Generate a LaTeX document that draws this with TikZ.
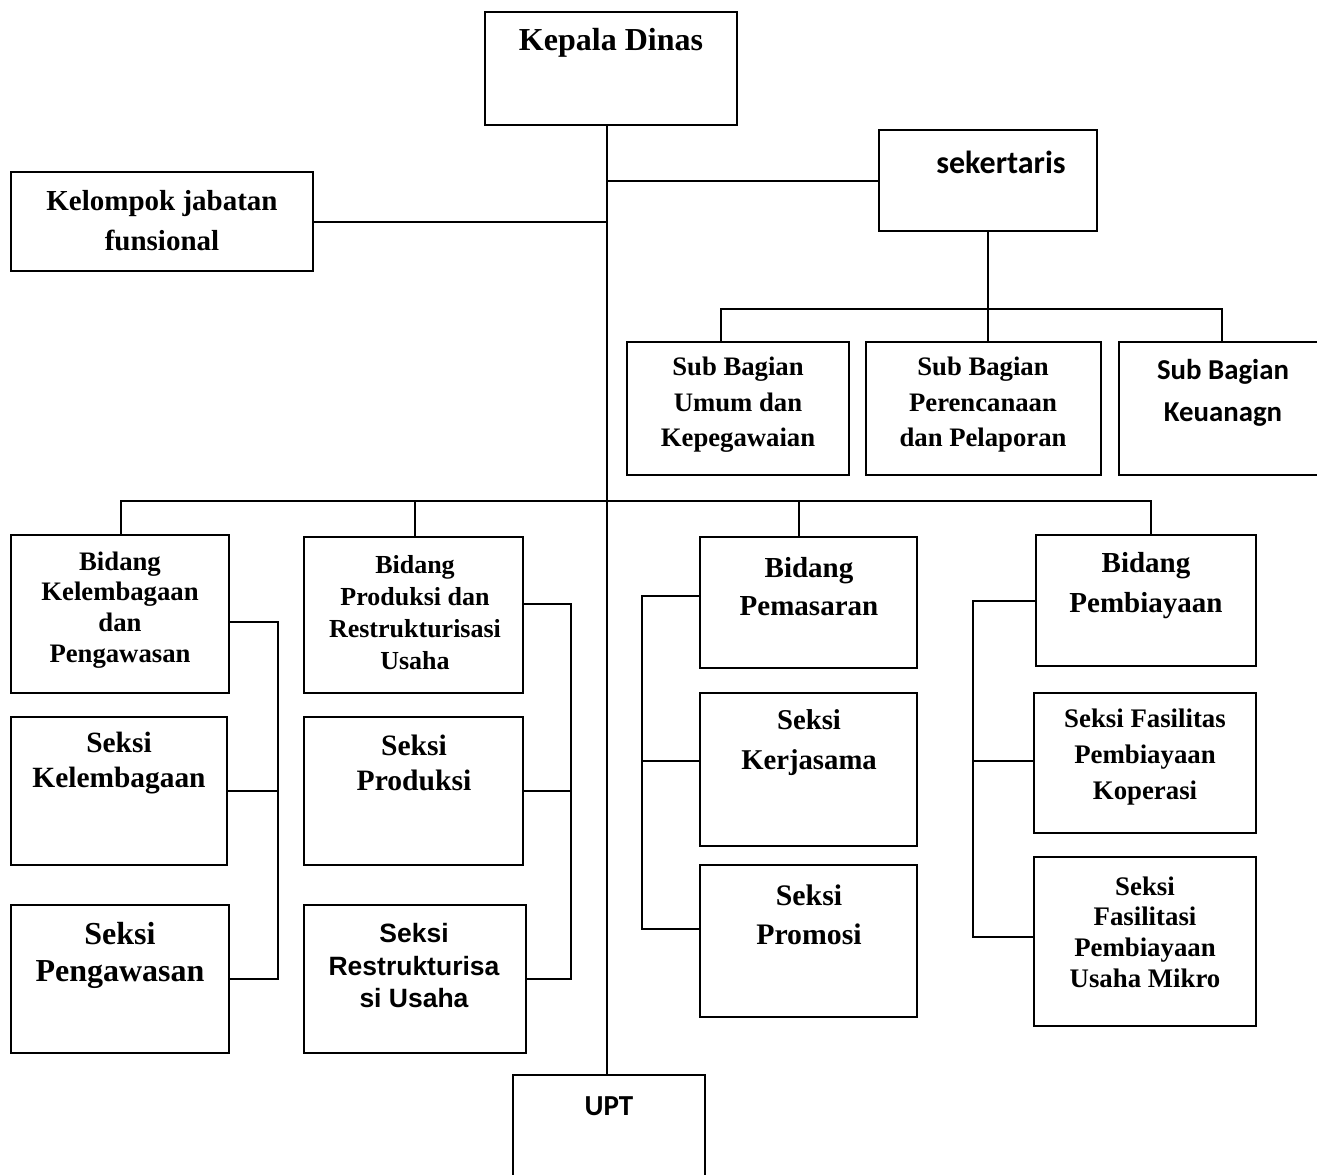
\documentclass[tikz,border=0pt]{standalone}
\usepackage{fontspec}
\setmainfont{Liberation Serif}
\newfontfamily\calibfont{Carlito}
\newfontfamily\arialfont{Liberation Sans}
\newcommand\setfs[2]{\fontsize{#1}{#2}\selectfont}
\begin{document}
\begin{tikzpicture}[x=1pt,y=-1pt,
  line width=2pt,
  box/.style={draw, line width=2pt, inner sep=0pt, rectangle},
  txt/.style={inner sep=0pt, align=center, font=\bfseries},
  conn/.style={line width=2pt}]
\clip (0,0) rectangle (1317,1175);
\fill[white] (0,0) rectangle (1317,1175);

% ---------- boxes ----------
\node[box, minimum width=252pt, minimum height=113pt] (kd)  at (611,68.5) {};
\node[box, minimum width=218pt, minimum height=101pt] (sek) at (988,180.5) {};
\node[box, minimum width=302pt, minimum height=99pt]  (kjf) at (162,221.5) {};
\node[box, minimum width=222pt, minimum height=133pt] (sb1) at (738,408.5) {};
\node[box, minimum width=235pt, minimum height=133pt] (sb2) at (983.5,408.5) {};
\node[box, minimum width=211pt, minimum height=133pt] (sb3) at (1224.5,408.5) {};
\node[box, minimum width=218pt, minimum height=158pt] (bk)  at (120,614) {};
\node[box, minimum width=216pt, minimum height=148pt] (sk)  at (119,791) {};
\node[box, minimum width=218pt, minimum height=148pt] (sp)  at (120,979) {};
\node[box, minimum width=219pt, minimum height=156pt] (bp)  at (413.5,615) {};
\node[box, minimum width=219pt, minimum height=148pt] (spr) at (413.5,791) {};
\node[box, minimum width=222pt, minimum height=148pt] (sr)  at (415,979) {};
\node[box, minimum width=217pt, minimum height=131pt] (bm)  at (808.5,602.5) {};
\node[box, minimum width=217pt, minimum height=153pt] (skj) at (808.5,769.5) {};
\node[box, minimum width=217pt, minimum height=152pt] (spm) at (808.5,941) {};
\node[box, minimum width=220pt, minimum height=131pt] (bb)  at (1146,600.5) {};
\node[box, minimum width=222pt, minimum height=140pt] (sfk) at (1145,763) {};
\node[box, minimum width=222pt, minimum height=169pt] (sfm) at (1145,941.5) {};
\node[box, minimum width=192pt, minimum height=125pt] (upt) at (609,1137.5) {};

% ---------- texts ----------
\node[txt, font=\bfseries\setfs{32}{37}] (tkd) at (611,43) {Kepala Dinas};
\node[txt, font=\calibfont\bfseries\setfs{32}{34}] (tsek) at (1001,162) {sekertaris};
\node[txt, font=\bfseries\setfs{29}{40}] (tkjf) at (162,221) {Kelompok jabatan\\funsional};
\node[txt, font=\bfseries\setfs{26.7}{35.5}] (tsb1) at (738,405) {Sub Bagian\\Umum dan\\Kepegawaian};
\node[txt, font=\bfseries\setfs{26.7}{35.5}] (tsb2) at (983,405) {Sub Bagian\\Perencanaan\\dan Pelaporan};
\node[txt, font=\calibfont\bfseries\setfs{28.8}{42}] (tsb3) at (1223,393) {Sub Bagian\\Keuanagn};
\node[txt, font=\bfseries\setfs{26.7}{30.7}] (tbk) at (120,610) {Bidang\\Kelembagaan\\dan\\Pengawasan};
\node[txt, font=\bfseries\setfs{26}{32}] (tbp) at (415,613) {Bidang\\Produksi dan\\Restrukturisasi\\Usaha};
\node[txt, font=\bfseries\setfs{29.4}{35}] (tsk) at (119,763) {Seksi\\Kelembagaan};
\node[txt, font=\bfseries\setfs{32}{37}] (tsp) at (120,955) {Seksi\\Pengawasan};
\node[txt, font=\bfseries\setfs{29.6}{35}] (tspr) at (414,763) {Seksi\\Produksi};
\node[txt, font=\arialfont\bfseries\setfs{26.5}{32.5}] (tsr) at (414,966) {Seksi\\Restrukturisa\\si Usaha};
\node[txt, font=\bfseries\setfs{29}{38}] (tbm) at (809,587) {Bidang\\Pemasaran};
\node[txt, font=\bfseries\setfs{28.7}{40}] (tskj) at (809,743) {Seksi\\Kerjasama};
\node[txt, font=\bfseries\setfs{29.8}{39}] (tspm) at (809,915) {Seksi\\Promosi};
\node[txt, font=\bfseries\setfs{29}{40}] (tbb) at (1146,586) {Bidang\\Pembiayaan};
\node[txt, font=\bfseries\setfs{26.8}{36}] (tsfk) at (1145,757) {Seksi Fasilitas\\Pembiayaan\\Koperasi};
\node[txt, font=\bfseries\setfs{26.8}{30.7}] (tsfm) at (1145,932) {Seksi\\Fasilitasi\\Pembiayaan\\Usaha Mikro};
\node[txt, font=\calibfont\bfseries\setfs{29}{34}] (tupt) at (609,1106) {UPT};

% ---------- junction coordinates ----------
\coordinate (jT)  at (607,181);
\coordinate (sbL) at (721,309);
\coordinate (sbR) at (1222,309);
\coordinate (bL)  at (121,501);
\coordinate (bR)  at (1151,501);
\coordinate (bP)  at (415,501);
\coordinate (bM)  at (799,501);
\coordinate (kv)  at (278,622);
\coordinate (pv)  at (571,604);
\coordinate (mv)  at (642,596);
\coordinate (mv1) at (642,761);
\coordinate (mv2) at (642,929);
\coordinate (fv)  at (973,601);
\coordinate (fv1) at (973,761);
\coordinate (fv2) at (973,937);

% ---------- connectors ----------
\draw[conn] (kd.south -| jT) -- (upt.north -| jT);
\draw[conn] (sek.west) -- (sek.west -| jT);
\draw[conn] (kjf.east) -- (kjf.east -| jT);
\draw[conn] (sek.south) -- (sek.south |- sb2.north);
\draw[conn] (sbL |- sb1.north) -- (sbL) -- (sbR) -- (sbR |- sb3.north);
\draw[conn] (bL |- bk.north) -- (bL) -- (bR) -- (bR |- bb.north);
\draw[conn] (bP) -- (bP |- bp.north);
\draw[conn] (bM) -- (bM |- bm.north);
% Kelembagaan group
\draw[conn] (bk.east |- kv) -- (kv) -- (kv |- sp.east) -- (sp.east);
\draw[conn] (sk.east) -- (sk.east -| kv);
% Produksi group
\draw[conn] (bp.east |- pv) -- (pv) -- (pv |- sr.east) -- (sr.east);
\draw[conn] (spr.east) -- (spr.east -| pv);
% Pemasaran group
\draw[conn] (bm.west |- mv) -- (mv) -- (mv2) -- (mv2 -| spm.west);
\draw[conn] (mv1) -- (mv1 -| skj.west);
% Pembiayaan group
\draw[conn] (bb.west |- fv) -- (fv) -- (fv2) -- (fv2 -| sfm.west);
\draw[conn] (fv1) -- (fv1 -| sfk.west);
\end{tikzpicture}
\end{document}
